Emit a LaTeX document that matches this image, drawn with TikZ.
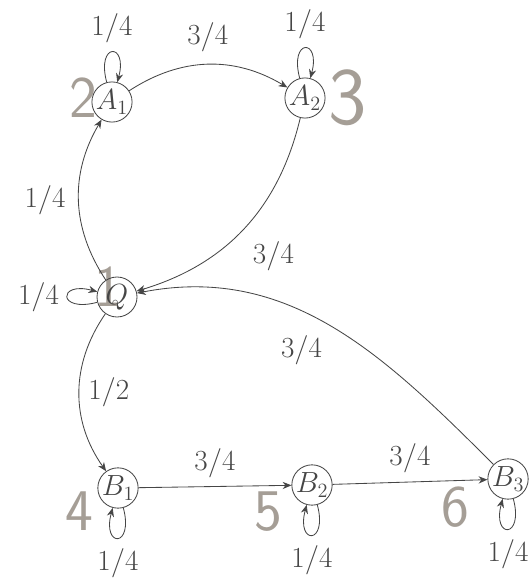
\documentclass[tikz,border=0pt]{standalone}
\usetikzlibrary{arrows.meta,positioning}
\definecolor{handgray}{RGB}{165,158,150}
\definecolor{inkgray}{RGB}{70,70,70}

\begin{document}
\begin{tikzpicture}[
  font=\LARGE,
  state/.style={
    circle,
    draw=inkgray,
    line width=0.6pt,
    minimum size=10mm,
    inner sep=0pt,
    font=\huge,
    text=inkgray
  },
  arrow/.style={-{Stealth[length=2.2mm,width=1.8mm]}, line width=0.6pt, draw=inkgray},
  selfloop/.style={arrow, min distance=8mm, looseness=10},
  prob/.style={font=\huge, text=inkgray},
  hand/.style={font=\sffamily\fontsize{42}{42}\selectfont, text=handgray}
]
\useasboundingbox (0,0) rectangle (13.275,-14.475);

% handwritten numbering
\node[hand] (n2) at (2.08,-2.43) {2};
\node[hand, font=\sffamily\fontsize{58}{58}\selectfont] (n3) at (8.7,-2.45) {3};
\node[hand] (n1) at (2.7,-7.17) {1};
\node[hand] (n4) at (1.98,-12.78) {4};
\node[hand] (n5) at (6.7,-12.8) {5};
\node[hand] (n6) at (11.38,-12.68) {6};

\node[state] (a1) at (2.8,-2.55) {$A_1$};
\node[state] (a2) at (7.625,-2.45) {$A_2$};
\node[state] (q) at (2.925,-7.425) {$Q$};
\node[state] (b1) at (2.95,-12.2) {$B_1$};
\node[state] (b2) at (7.8,-12.125) {$B_2$};
\node[state] (b3) at (12.7,-11.975) {$B_3$};

\path (a1) edge[loop above, selfloop] node[prob, above=1mm] (la1) {$1/4$} (a1);
\path (a2) edge[loop above, selfloop] node[prob, above=1mm] (la2) {$1/4$} (a2);
\path (q) edge[loop left, selfloop] node[prob, left=0.8mm] (lq) {$1/4$} (q);
\path (b1) edge[loop below, selfloop] node[prob, below=1.5mm] (lb1) {$1/4$} (b1);
\path (b2) edge[loop below, selfloop] node[prob, below=1.5mm] (lb2) {$1/4$} (b2);
\path (b3) edge[loop below, selfloop] node[prob, below=1.5mm] (lb3) {$1/4$} (b3);

\draw[arrow] (a1) to[bend left=32] node[prob, above=2mm] (ta1a2) {$3/4$} (a2);
\draw[arrow] (a2) to[bend left=30] node[prob, pos=0.5, below right=2mm and 1mm] (ta2q) {$3/4$} (q);
\draw[arrow] (q) to[bend left=32] node[prob, left=2mm] (tqa1) {$1/4$} (a1);
\draw[arrow] (q) to[bend right=35] node[prob, right=1mm] (tqb1) {$1/2$} (b1);
\draw[arrow] (b1) -- node[prob, above=1mm] (tb1b2) {$3/4$} (b2);
\draw[arrow] (b2) -- node[prob, above=1mm] (tb2b3) {$3/4$} (b3);
\draw[arrow] (b3) to[out=135, in=11] node[prob, below left=1mm and 1mm] (tb3q) {$3/4$} (q);

\end{tikzpicture}
\end{document}
